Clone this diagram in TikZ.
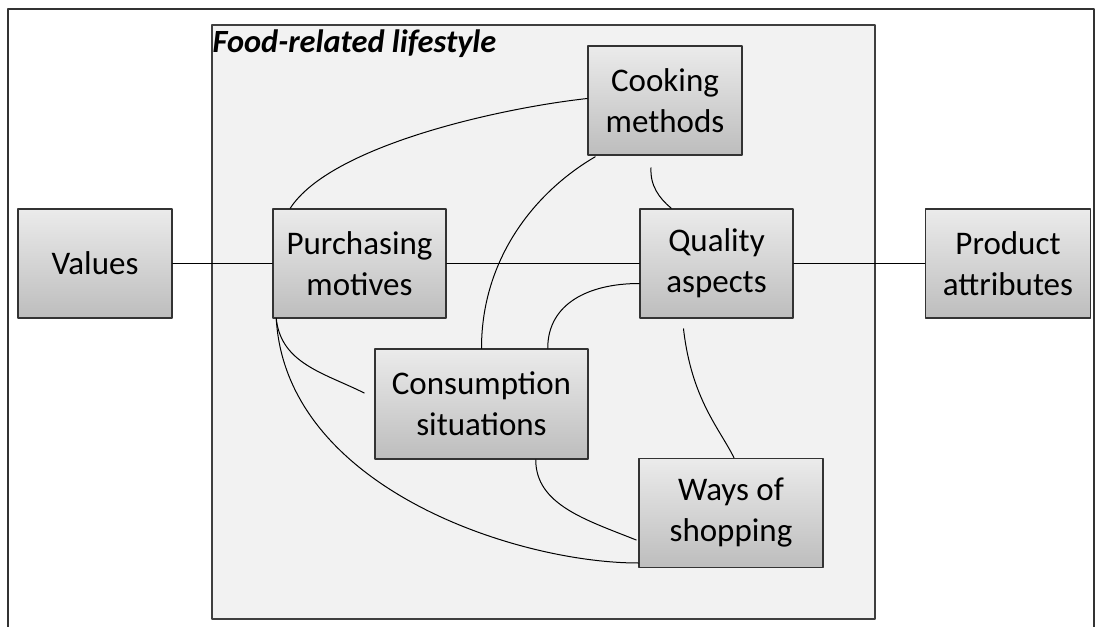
\documentclass[tikz,border=0pt]{standalone}
\usepackage{fontspec}
\setmainfont{Carlito}
\usepackage{xcolor}
\usepackage{tikz}
\usetikzlibrary{positioning,calc}
\definecolor{boxtop}{HTML}{EBEBEB}
\definecolor{boxbot}{HTML}{BDBDBD}
\definecolor{boxline}{HTML}{333333}
\definecolor{panel}{HTML}{F2F2F2}
\definecolor{panelline}{HTML}{3F3F3F}
\tikzset{
    every picture/.style={line cap=round,line join=round},
    factor/.style={draw=boxline,top color=boxtop,bottom color=boxbot,
      line width=0.75pt,minimum height=54.5pt,inner sep=0pt,
      font=\fontsize{16.5}{20.5}\selectfont,align=center},
    panelbox/.style={draw=panelline,fill=panel,line width=0.7pt,inner sep=0pt},
    link/.style={draw=black,line width=0.5pt}
}
\begin{document}
\begin{tikzpicture}[x=0.5pt,y=-0.5pt]
  \clip (0,0) rectangle (1100,627);
  \fill[white] (0,0) rectangle (1100,627);
  \draw[boxline,line width=1pt] (8,9) rectangle (1094,660);
  % the food-related lifestyle panel
  \node[panelbox,minimum width=331.5pt,minimum height=297pt] (life) at (543.5,322) {};
  \node[anchor=base west,inner xsep=0pt,font=\fontsize{16.2}{20}\selectfont\bfseries\itshape]
    (title) at ($(life.north west)+(1,28)$) {Food-related lifestyle};
  % boxes
  \node[factor,minimum width=77pt] (val) at (95,263.5) {Values};
  \node[factor,minimum width=86.5pt] (purch) at (359.5,263.5) {Purchasing\\motives};
  \node[factor,minimum width=77pt] (cook) at (665,100.5) {Cooking\\methods};
  \node[factor,minimum width=76.5pt] (qual) at (716.5,263.5) {Quality\\aspects};
  \node[factor,minimum width=106.5pt,minimum height=55pt] (cons) at (481.5,404) {Consumption\\situations};
  \node[factor,minimum width=92pt] (ways) at (731,513) {Ways of\\shopping};
  \node[factor,minimum width=82.5pt] (prod) at (1008,263.5) {Product\\attributes};
  % straight links
  \draw[link] (val) -- (purch);
  \draw[link] (purch) -- (qual);
  \draw[link] (qual) -- (prod);
  % curved links
  \draw[link] ($(purch.north west)+(18,0)$) .. controls +(40,-62) and +(-90,10) .. ($(cook.west)+(0,-2)$);
  \draw[link] ($(cook.south west)+(8,1)$) .. controls +(-60,35) and +(0,-90) .. (cons.north);
  \draw[link] ($(cook.south)+(-14,12)$) .. controls +(-1,18) and +(-12,-10) .. ($(qual.north west)+(32,0)$);
  \draw[link] ($(cons.north east)+(-41,0)$) .. controls +(0,-45) and +(-50,0) .. ($(qual.west)+(0,20)$);
  \draw[link] ($(purch.south west)+(4,0)$) .. controls +(5,45) and +(-40,-20) .. ($(cons.west)+(-10,-11)$);
  \draw[link] ($(purch.south west)+(4,0)$) .. controls +(10,170) and +(-120,0) .. ($(ways.west)+(0,50)$);
  \draw[link] ($(cons.south east)+(-53,0)$) .. controls +(0,45) and +(-50,-20) .. ($(ways.west)+(-2,27)$);
  \draw[link] ($(qual.south)+(-33,10)$) .. controls +(8,70) and +(-15,-30) .. ($(ways.north)+(3,0)$);
\end{tikzpicture}
\end{document}
